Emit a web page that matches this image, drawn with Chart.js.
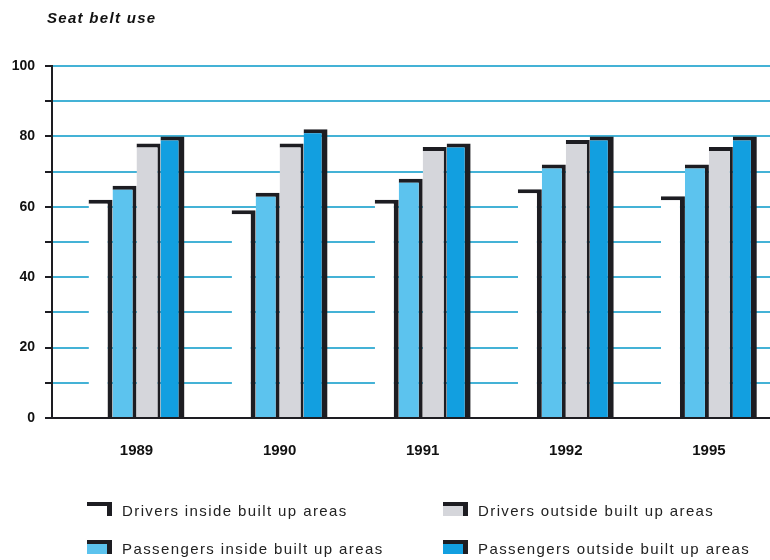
<!DOCTYPE html>
<html><head><meta charset="utf-8">
<script src="https://cdn.jsdelivr.net/npm/chart.js@4.4.1/dist/chart.umd.min.js"></script>
<style>html,body{margin:0;padding:0;background:#fff;overflow:hidden}#wrap{position:relative;width:770px;height:560px}</style>
</head><body><div id="wrap"><canvas id="c" width="770" height="560"></canvas></div>
<script>
const chartTitle = 'Seat belt use';
const years = ['1989', '1990', '1991', '1992', '1995'];
const seriesNames = ['Drivers inside built up areas', 'Drivers outside built up areas', 'Passengers inside built up areas', 'Passengers outside built up areas'];
const driversInside = [62, 59, 62, 65, 63];
const driversOutside = [78, 78, 77, 79, 77];
const passengersInside = [66, 64, 68, 72, 72];
const passengersOutside = [80, 82, 78, 80, 80];
const yTickLabels = [0, 20, 40, 60, 80, 100];

const DARK = '#1d1d22';
const fills = {
  di: '#ffffff',
  do: '#d5d6db',
  pi: '#5cc3ee',
  po: '#129fe0'
};

function pts(arr) { return arr.map((v, i) => ({ x: i, y: v })); }

const datasets = [
  { label: seriesNames[0], data: pts(driversInside), backgroundColor: fills.di, borderColor: DARK, borderWidth: { top: 4, right: 5, left: 0, bottom: 0 } },
  { label: seriesNames[2], data: pts(passengersInside), backgroundColor: fills.pi, borderColor: DARK, borderWidth: { top: 4, right: 4, left: 0, bottom: 0 } },
  { label: seriesNames[1], data: pts(driversOutside), backgroundColor: fills.do, borderColor: DARK, borderWidth: { top: 4, right: 3, left: 0, bottom: 0 } },
  { label: seriesNames[3], data: pts(passengersOutside), backgroundColor: fills.po, borderColor: DARK, borderWidth: { top: 4, right: 6, left: 0, bottom: 0 } }
];

const legendOrder = [
  { name: seriesNames[0], fill: fills.di },
  { name: seriesNames[1], fill: fills.do },
  { name: seriesNames[2], fill: fills.pi },
  { name: seriesNames[3], fill: fills.po }
];

const decor = {
  id: 'decor',
  afterDraw(chart) {
    const ctx = chart.ctx;
    ctx.save();
    // title
    ctx.fillStyle = '#111';
    ctx.font = 'italic bold 15px "Liberation Sans", Arial, sans-serif';
    ctx.textBaseline = 'middle';
    ctx.textAlign = 'left';
    if ('letterSpacing' in ctx) ctx.letterSpacing = '1.3px';
    ctx.fillText(chartTitle, 47, 19);
    // legend
    const cols = [87, 443];
    const rows = [502, 540];
    ctx.font = '15px "Liberation Sans", Arial, sans-serif';
    if ('letterSpacing' in ctx) ctx.letterSpacing = '1.4px';
    legendOrder.forEach((it, k) => {
      const x = cols[k % 2];
      const y = rows[Math.floor(k / 2)];
      const w = 25, h = 14;
      ctx.fillStyle = DARK;
      ctx.fillRect(x, y, w, h);
      ctx.fillStyle = it.fill;
      ctx.fillRect(x, y + 4, w - 5, h - 4);
      ctx.fillStyle = '#222';
      ctx.fillText(it.name, x + 35, y + 10);
    });
    ctx.restore();
  }
};

new Chart(document.getElementById('c'), {
  type: 'bar',
  data: { datasets },
  options: {
    responsive: false,
    animation: false,
    layout: { padding: { top: 66, right: 0, left: 0, bottom: 0 } },
    datasets: { bar: { categoryPercentage: 0.67, barPercentage: 1.0, borderSkipped: 'start' } },
    plugins: { legend: { display: false }, tooltip: { enabled: false }, title: { display: false } },
    scales: {
      x: {
        type: 'linear',
        offset: false,
        min: -0.5905,
        max: 4.427,
        grid: { display: false, offset: false },
        border: { color: DARK, width: 2 },
        afterBuildTicks: s => { s.ticks = years.map((_, i) => ({ value: i })); },
        afterFit: s => { s.height = 142; },
        ticks: {
          autoSkip: false, maxRotation: 0, padding: 16,
          color: '#111',
          font: { family: '"Liberation Sans", Arial, sans-serif', size: 15, weight: 'bold' },
          callback: v => (years[v] !== undefined ? years[v] : '')
        }
      },
      y: {
        min: 0,
        max: 100,
        afterFit: s => { s.width = 52; },
        border: { color: DARK, width: 2 },
        grid: { color: '#44b2d6', lineWidth: 2, tickColor: DARK, tickLength: 7, drawTicks: true },
        ticks: {
          stepSize: 10, padding: 10, color: '#111',
          font: { family: '"Liberation Sans", Arial, sans-serif', size: 14, weight: 'bold' },
          callback: v => (yTickLabels.includes(v) ? String(v) : '')
        }
      }
    }
  },
  plugins: [decor]
});
</script>
</body></html>
